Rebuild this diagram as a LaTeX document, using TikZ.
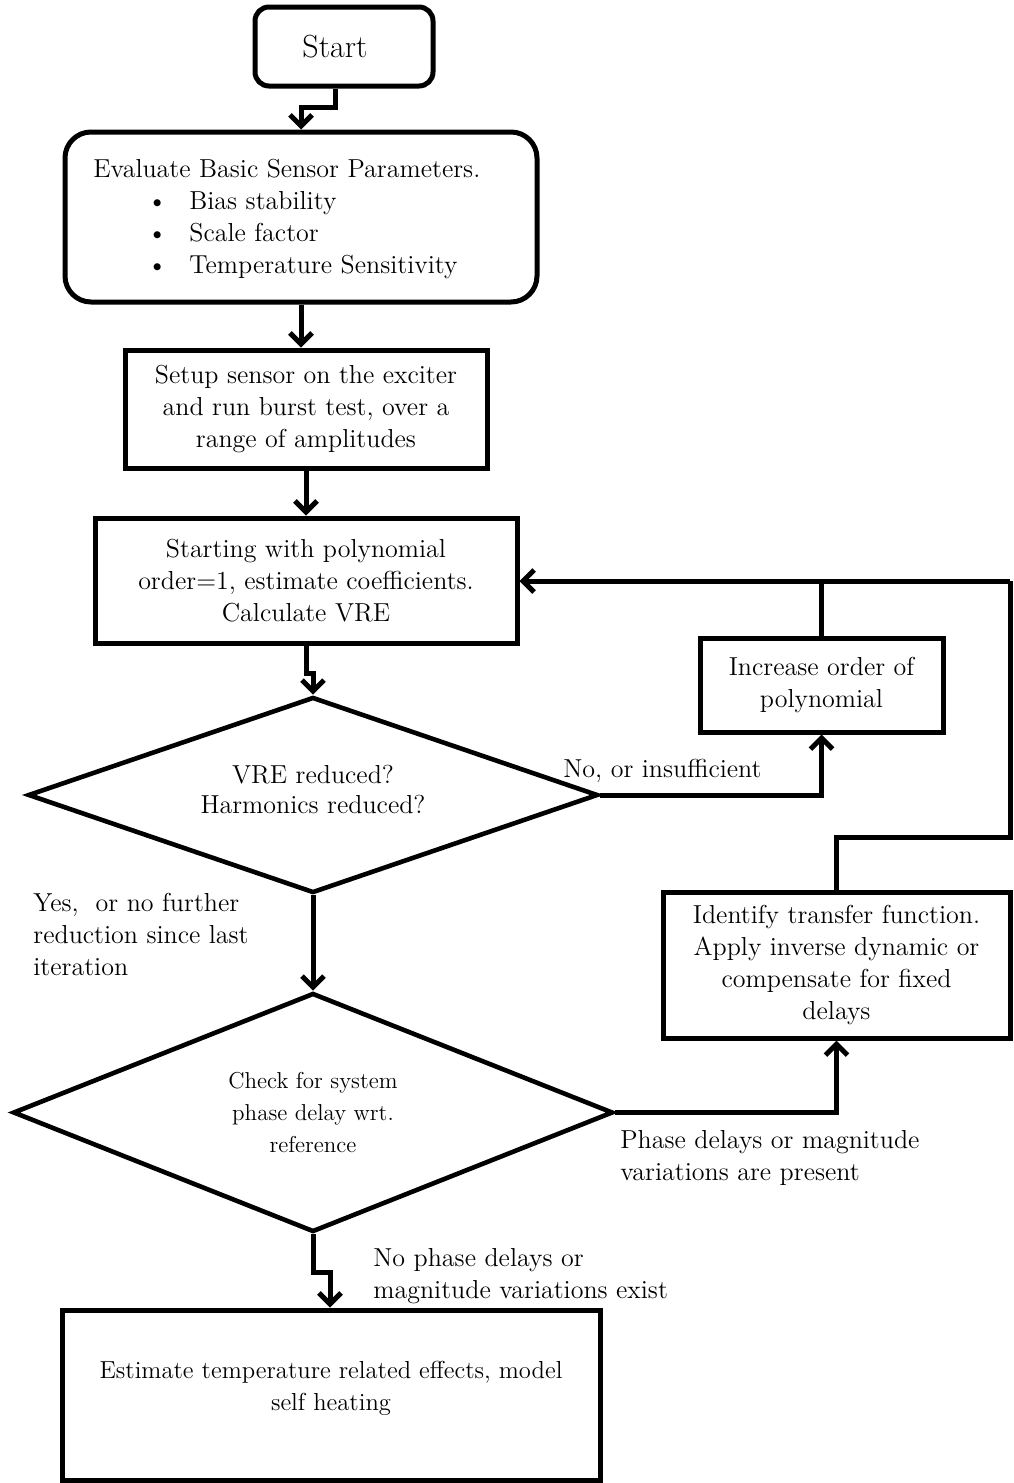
\documentclass[tikz,border=0pt]{standalone}
\usepackage{fontspec}
\usepackage{tikz}
\usetikzlibrary{arrows.meta,positioning,shapes.geometric}
\newcommand{\cam}{\fontsize{13}{16}\selectfont}
\newcommand{\tim}{\fontsize{11.5}{16}\selectfont}
\tikzset{box/.style={draw,line width=2.5pt,inner sep=0pt,align=center,font=\cam,fill=white},
  rbox/.style={box,rounded corners=7pt},
  decision/.style={draw,diamond,line width=2.3pt,inner sep=0pt,align=center,font=\tim},
  wire/.style={line width=2.5pt},
  flow/.style={wire,-{Straight Barb[length=5.5pt,width=11pt]}},
  lab/.style={font=\cam,align=left,inner sep=0pt}}

\begin{document}
\begin{tikzpicture}[x=0.5pt,y=-0.5pt]
\useasboundingbox (0,0) rectangle (1013,1483);

% Main column of steps.
\node[rbox,minimum width=89pt,minimum height=39.5pt,font=\fontsize{16}{18}\selectfont]
  (start) at (344,46.5) {Start\hspace*{9pt}};
\node[rbox,rounded corners=13pt,minimum width=236pt,minimum height=85pt] (eval) at (301,217) {};
\node[lab,anchor=north west] (evaltxt) at (93,159) {Evaluate Basic Sensor Parameters.\\
  \hspace*{27pt}\makebox[21pt][l]{\textbullet}Bias stability\\
  \hspace*{27pt}\makebox[21pt][l]{\textbullet}Scale factor\\
  \hspace*{27pt}\makebox[21pt][l]{\textbullet}Temperature Sensitivity};
\node[box,minimum width=181pt,minimum height=59pt] (setup) at (306,409)
  {Setup sensor on the exciter\\and run burst test, over a\\range of amplitudes};
\node[box,minimum width=211pt,minimum height=62.5pt] (fit) at (306,580.5)
  {Starting with polynomial\\order=1, estimate coefficients.\\Calculate VRE};
\node[decision,font=\fontsize{13}{15}\selectfont,aspect=2.9,minimum width=285pt,minimum height=98pt]
  (vre) at (313,795) {VRE reduced?\\Harmonics reduced?\\[-9pt]\mbox{}};
\node[decision,aspect=2.5,minimum width=300pt,minimum height=119.5pt] (chk) at (313,1112.5)
  {Check for system\\phase delay wrt.\\reference};
\node[box,font=\fontsize{12.3}{16}\selectfont,minimum width=269pt,minimum height=85pt] (temp) at (331,1395)
  {Estimate temperature related effects, model\\self heating\\[-6.5pt]\mbox{}};

% Side steps.
\node[box,minimum width=121.5pt,minimum height=47pt] (inc) at (821.5,685)
  {Increase order of\\polynomial};
\node[box,minimum width=173.5pt,minimum height=73pt] (tf) at (836.5,965)
  {Identify transfer function.\\Apply inverse dynamic or\\compensate for fixed\\delays};

% Bends and loop corners.
\coordinate (j1) at (335,107);
\coordinate (j2) at (313,673);
\coordinate (j3) at (330,1272);
\coordinate (fbr) at (1010,581);
\coordinate (fbc) at (1010,837);

% Connectors.
\draw[flow] (start.south -| j1) -- (j1) -| (eval.north);
\draw[flow] (eval.south) -- (eval.south |- setup.north);
\draw[flow] (setup) -- (fit);
\draw[flow] (fit.south) |- (j2) -- (vre.north);
\draw[flow] (vre) -- (chk);
\draw[flow] (chk.south) |- (j3) -- (j3 |- temp.north);
\draw[flow] (vre.east) -| (inc.south);
\draw[wire] (inc.north) -- (inc.north |- fbr);
\draw[flow] (fbr) -- (fit.east |- fbr);
\draw[flow] (chk.east) -| (tf.south);
\draw[wire] (tf.north) |- (fbc) -- (fbr);

% Branch labels.
\node[lab,anchor=base west] (lno) at (563,777) {No, or insufficient};
\node[lab,anchor=north west] (lyes) at (33,893) {Yes,\ \ or no further\\reduction since last\\iteration};
\node[lab,anchor=north west] (lph) at (620,1130) {Phase delays or magnitude\\variations are present};
\node[lab,anchor=north west] (lnoph) at (373,1248) {No phase delays or\\magnitude variations exist};
\end{tikzpicture}
\end{document}
